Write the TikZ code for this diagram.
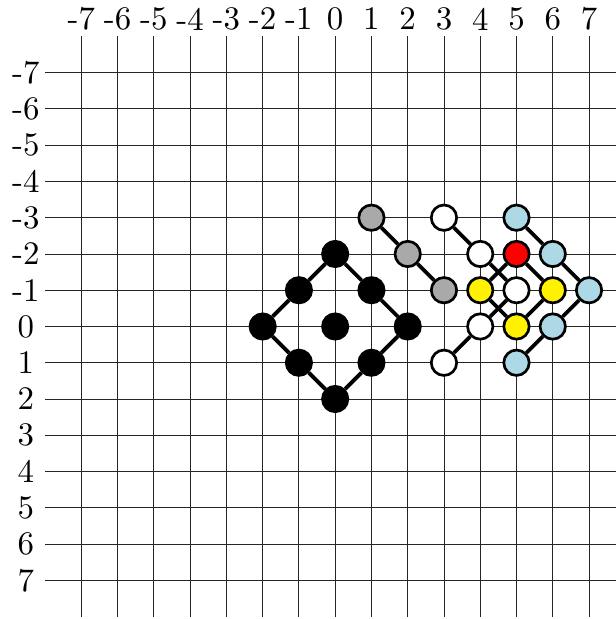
\documentclass[tikz,border=0pt]{standalone}
\usepackage{tikz}
\usepackage{graphicx}
\begin{document}
\begin{tikzpicture}[y=-1cm,
  gridline/.style={line width=0.7pt, black!85},
  lbl/.style={inner sep=0pt},
  dot/.style={circle, draw=black, line width=2.1pt, minimum size=0.7cm, inner sep=0pt},
  conn/.style={line width=3pt},
]
\clip (-9.244,8.067) rectangle (7.744,-9.004);
\foreach \i in {-7,...,7} {
  \draw[gridline] (-8,\i) -- (8,\i);
  \draw[gridline] (\i,-8) -- (\i,8);
  \node[lbl] (t\i) at (\i,-8.48) {\scalebox{2.58}{\i}};
  \node[lbl] (l\i) at (-8.53,\i) {\scalebox{2.58}{\i}};
}
% black diamond
\node[dot, fill=black] (k1) at (0,-2) {};
\node[dot, fill=black] (k2) at (-1,-1) {};
\node[dot, fill=black] (k3) at (1,-1) {};
\node[dot, fill=black] (k4) at (-2,0) {};
\node[dot, fill=black] (k5) at (0,0) {};
\node[dot, fill=black] (k6) at (2,0) {};
\node[dot, fill=black] (k7) at (-1,1) {};
\node[dot, fill=black] (k8) at (1,1) {};
\node[dot, fill=black] (k9) at (0,2) {};
\draw[conn] (k1) -- (k2) (k2) -- (k4) (k4) -- (k7) (k7) -- (k9)
            (k9) -- (k8) (k8) -- (k6) (k6) -- (k3) (k3) -- (k1);
% gray
\node[dot, fill={rgb,255:red,169;green,169;blue,169}] (g1) at (1,-3) {};
\node[dot, fill={rgb,255:red,169;green,169;blue,169}] (g2) at (2,-2) {};
\node[dot, fill={rgb,255:red,169;green,169;blue,169}] (g3) at (3,-1) {};
\draw[conn] (g1) -- (g2) (g2) -- (g3);
% white
\node[dot, fill=white] (w1) at (3,-3) {};
\node[dot, fill=white] (w2) at (4,-2) {};
\node[dot, fill=white] (w3) at (5,-1) {};
\node[dot, fill=white] (w4) at (4,0) {};
\node[dot, fill=white] (w5) at (3,1) {};
\draw[conn] (w1) -- (w2) (w2) -- (w3) (w3) -- (w4) (w4) -- (w5);
% red and yellow
\node[dot, fill=red] (r) at (5,-2) {};
\node[dot, fill=yellow] (y1) at (4,-1) {};
\node[dot, fill=yellow] (y2) at (6,-1) {};
\node[dot, fill=yellow] (y3) at (5,0) {};
\draw[conn] (r) -- (y1) (y1) -- (y3) (r) -- (y2) (y2) -- (y3);
% light blue
\node[dot, fill={rgb,255:red,173;green,216;blue,230}] (c1) at (5,-3) {};
\node[dot, fill={rgb,255:red,173;green,216;blue,230}] (c2) at (6,-2) {};
\node[dot, fill={rgb,255:red,173;green,216;blue,230}] (c3) at (7,-1) {};
\node[dot, fill={rgb,255:red,173;green,216;blue,230}] (c4) at (6,0) {};
\node[dot, fill={rgb,255:red,173;green,216;blue,230}] (c5) at (5,1) {};
\draw[conn] (c1) -- (c2) (c2) -- (c3) (c3) -- (c4) (c4) -- (c5);
\end{tikzpicture}
\end{document}
